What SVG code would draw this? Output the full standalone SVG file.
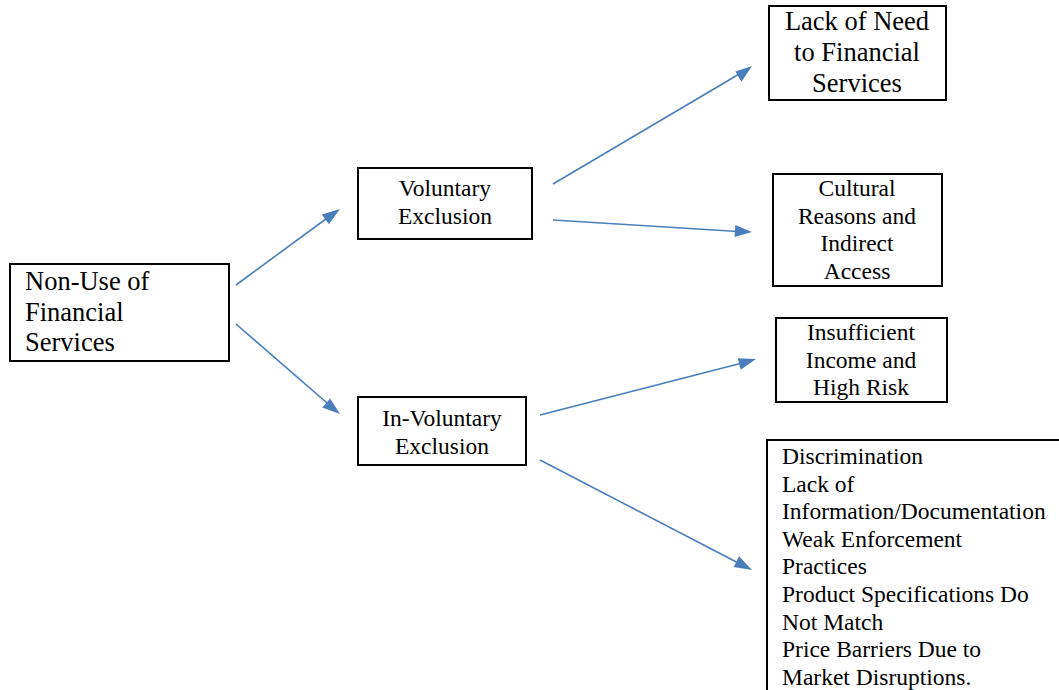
<svg xmlns="http://www.w3.org/2000/svg" width="1059" height="690" viewBox="0 0 1059 690">
<style>
.box{fill:#fff;stroke:#000;stroke-width:2}
.t{font-family:"Liberation Serif","Times New Roman",serif;fill:#000}
.c{text-anchor:middle}
.s20{font-size:23.5px}
.s23{font-size:26.5px}
.con{stroke:#4A7EBB;stroke-width:1.6;fill:none}
.ah{fill:#4A7EBB}
</style>
<rect width="1059" height="690" fill="#fff"/>
<g id="connectors">
<line class="con" x1="236" y1="285" x2="334" y2="213"/>
<line class="con" x1="236" y1="324" x2="334" y2="409"/>
<line class="con" x1="553" y1="184" x2="746" y2="70"/>
<line class="con" x1="553" y1="220" x2="746" y2="232"/>
<line class="con" x1="540" y1="415" x2="750" y2="361"/>
<line class="con" x1="540" y1="460" x2="746" y2="567"/>
<polygon class="ah" points="340,209 328.9,224.3 321.8,214.6"/>
<polygon class="ah" points="340,414 322.3,407.5 330.1,398.4"/>
<polygon class="ah" points="752,66 741.5,81.7 735.4,71.4"/>
<polygon class="ah" points="752,232 734.6,237.0 735.3,225.0"/>
<polygon class="ah" points="756,359 740.7,369.8 737.7,358.2"/>
<polygon class="ah" points="752,570 733.6,567.0 739.1,556.3"/>
</g>
<g id="n-nonuse">
<rect class="box" x="10" y="264" width="219" height="97"/>
<text class="t s23" x="25" y="290">Non-Use of</text>
<text class="t s23" x="25" y="321">Financial</text>
<text class="t s23" x="25" y="351">Services</text>
</g>
<g id="n-voluntary">
<rect class="box" x="358" y="168" width="174" height="71"/>
<text class="t s20 c" x="445" y="196">Voluntary</text>
<text class="t s20 c" x="445" y="224">Exclusion</text>
</g>
<g id="n-involuntary">
<rect class="box" x="358" y="397" width="168" height="68"/>
<text class="t s20 c" x="442" y="426">In-Voluntary</text>
<text class="t s20 c" x="442" y="454">Exclusion</text>
</g>
<g id="n-lackneed">
<rect class="box" x="769" y="6" width="177" height="94"/>
<text class="t s23 c" x="857" y="30">Lack of Need</text>
<text class="t s23 c" x="857" y="61">to Financial</text>
<text class="t s23 c" x="857" y="92">Services</text>
</g>
<g id="n-cultural">
<rect class="box" x="773" y="174" width="169" height="112"/>
<text class="t s20 c" x="857" y="196">Cultural</text>
<text class="t s20 c" x="857" y="224">Reasons and</text>
<text class="t s20 c" x="857" y="251">Indirect</text>
<text class="t s20 c" x="857" y="279">Access</text>
</g>
<g id="n-insufficient">
<rect class="box" x="776" y="318" width="171" height="84"/>
<text class="t s20 c" x="861" y="340">Insufficient</text>
<text class="t s20 c" x="861" y="368">Income and</text>
<text class="t s20 c" x="861" y="395">High Risk</text>
</g>
<g id="n-barriers">
<path d="M767,691 L767,440 L1060,440" fill="none" stroke="#000" stroke-width="2"/>
<text class="t s20" x="782" y="464">Discrimination</text>
<text class="t s20" x="782" y="492">Lack of</text>
<text class="t s20" x="782" y="519">Information/Documentation</text>
<text class="t s20" x="782" y="547">Weak Enforcement</text>
<text class="t s20" x="782" y="574">Practices</text>
<text class="t s20" x="782" y="602">Product Specifications Do</text>
<text class="t s20" x="782" y="630">Not Match</text>
<text class="t s20" x="782" y="657">Price Barriers Due to</text>
<text class="t s20" x="782" y="685">Market Disruptions.</text>
</g>
</svg>
